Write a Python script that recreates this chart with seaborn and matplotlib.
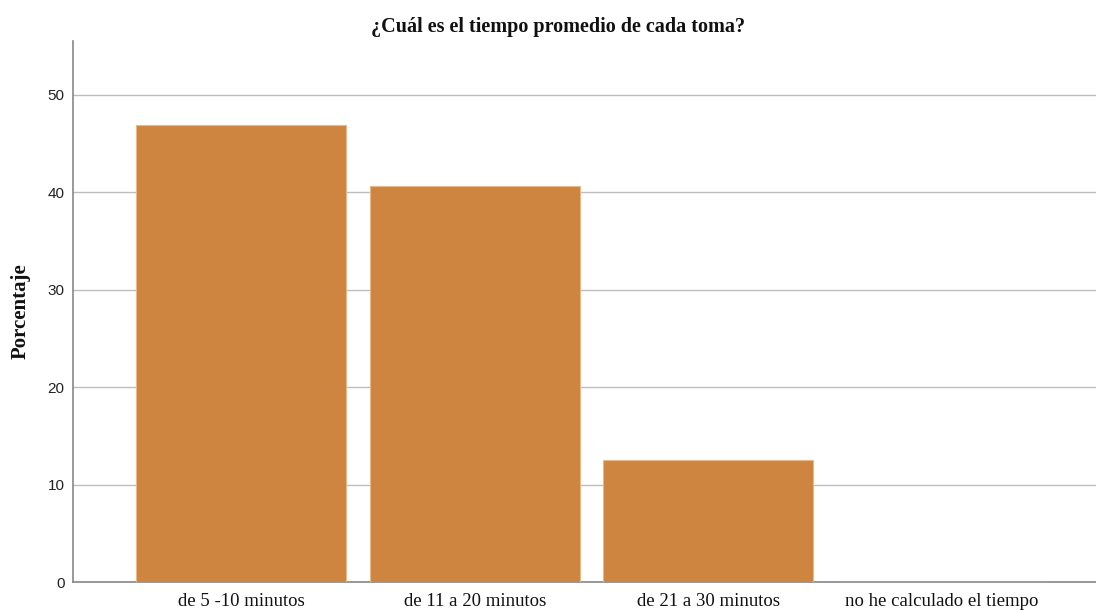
import matplotlib
matplotlib.use("Agg")
import matplotlib.pyplot as plt
import seaborn as sns
import pandas as pd

# --- Data ---
categorias = ["de 5 -10 minutos", "de 11 a 20 minutos", "de 21 a 30 minutos", "no he calculado el tiempo"]
porcentajes = [46.875, 40.625, 12.5, 0.0]
yticks = [0, 10, 20, 30, 40, 50]

titulo = "¿Cuál es el tiempo promedio de cada toma?"
ylabel = "Porcentaje"

sns.set_theme(style="white")

df = pd.DataFrame({"categoria": categorias, "porcentaje": porcentajes})

fig = plt.figure(figsize=(10.96, 6.10), dpi=100)
ax = fig.add_axes([73 / 1096, 28 / 610, 1 - 73 / 1096, (582 - 41) / 610])

sns.barplot(data=df, x="categoria", y="porcentaje", color="#CD853F", saturation=1,
            width=0.9, edgecolor="#E8B98A", linewidth=0.8, ax=ax, zorder=3)

# --- Styling ---
ax.set_xlim(-0.72, 3.66)
ax.set_ylim(0, 55.5)
ax.set_yticks(yticks)
ax.yaxis.grid(True, color="#BDBDBD", linewidth=1.0, zorder=0)
ax.set_axisbelow(True)
for s in ["top", "right"]:
    ax.spines[s].set_visible(False)
for s in ["left", "bottom"]:
    ax.spines[s].set_color("#888888")
    ax.spines[s].set_linewidth(1.2)
ax.tick_params(axis="both", length=0)
ax.tick_params(axis="y", pad=6)
ax.tick_params(axis="x", pad=8)
for lbl in ax.get_yticklabels():
    lbl.set_fontfamily("Liberation Sans")
    lbl.set_fontsize(11)
    lbl.set_color("#222222")
for lbl in ax.get_xticklabels():
    lbl.set_fontfamily("Liberation Serif")
    lbl.set_fontsize(13.5)
    lbl.set_color("#111111")

ax.set_xlabel("")
ax.set_ylabel(ylabel, fontfamily="Liberation Serif", fontweight="bold", fontsize=15,
              color="#111111", labelpad=12)
fig.text(558 / 1096, 1 - 27 / 610, titulo, ha="center", va="center",
         fontfamily="Liberation Serif", fontweight="bold", fontsize=14.5, color="#111111")

fig.savefig("out.png", dpi=100)
